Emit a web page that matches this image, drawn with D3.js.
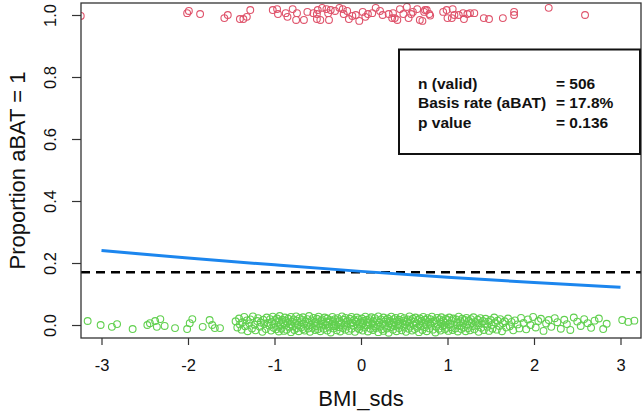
<!DOCTYPE html>
<html><head><meta charset="utf-8">
<script src="https://cdn.jsdelivr.net/npm/d3@7/dist/d3.min.js"></script>
<style>body{margin:0;background:#fff}svg{display:block}text{font-family:"Liberation Sans",Arial,sans-serif}</style>
</head><body><svg id="c" width="644" height="413"></svg>
<script>
// ---- data ----
const xTicks = [-3, -2, -1, 0, 1, 2, 3];
const xTickLabels = ["-3", "-2", "-1", "0", "1", "2", "3"];
const yTicks = [0, 0.2, 0.4, 0.6, 0.8, 1.0];
const yTickLabels = ["0.0", "0.2", "0.4", "0.6", "0.8", "1.0"];
const xLabel = "BMI_sds";
const yLabel = "Proportion aBAT = 1";
const baseRate = 0.17;
const fitX = [-3, -2, -1, 0, 1, 2, 3];
const fitY = [0.240, 0.216, 0.194, 0.173, 0.154, 0.137, 0.122];
const statLabels = ["n (valid)", "Basis rate (aBAT)", "p value"];
const statValues = ["= 506", "= 17.8%", "= 0.136"];
// aBAT = 1 (jittered around 1)
const pointsOne = [
[-3.24,0.997],[-2.01,1.006],[-1.99,1.013],[-1.86,1.003],[-1.58,0.990],[-1.54,1.000],[-1.40,0.987],[-1.36,0.987],[-1.32,0.994],[-1.28,1.016],
[-1.02,1.016],[-0.97,1.019],[-0.96,1.003],[-0.87,1.006],[-0.85,0.994],[-0.79,1.019],[-0.74,1.006],[-0.75,0.984],[-0.66,0.984],[-0.62,1.010],
[-0.55,1.006],[-0.51,1.003],[-0.50,1.016],[-0.51,0.987],[-0.47,0.984],[-0.45,1.023],[-0.40,1.019],[-0.38,1.006],[-0.37,0.984],[-0.35,1.016],
[-0.30,1.013],[-0.25,1.023],[-0.21,1.019],[-0.20,1.003],[-0.16,1.013],[-0.14,0.987],[-0.10,0.997],[-0.06,1.000],[-0.02,0.981],[0.02,1.010],
[0.05,0.994],[0.08,1.003],[0.13,1.006],[0.17,1.023],[0.22,1.013],[0.25,1.000],[0.32,1.003],[0.37,1.006],[0.36,0.990],[0.39,0.990],
[0.42,0.984],[0.45,1.019],[0.49,1.003],[0.53,1.026],[0.55,0.990],[0.58,1.003],[0.60,1.010],[0.65,1.019],[0.68,0.984],[0.71,0.981],
[0.73,1.010],[0.74,1.016],[0.76,1.016],[0.79,1.003],[0.80,0.998],[0.95,1.010],[0.99,1.016],[1.00,0.990],[1.05,0.990],[1.06,1.019],
[1.08,1.000],[1.13,1.000],[1.18,1.006],[1.19,0.987],[1.23,1.003],[1.26,1.006],[1.31,1.006],[1.42,0.990],[1.48,0.987],[1.64,0.990],
[1.77,1.010],[1.77,1.000],[2.17,1.023],[2.59,1.000]
];
// aBAT = 0 (jittered around 0)
const pointsZero = [
[-3.16,0.013],[-3.01,0.000],[-2.88,-0.006],[-2.82,0.003],[-2.64,-0.013],[-2.47,0.000],[-2.44,0.006],[-2.38,0.013],[-2.32,0.019],[-2.36,-0.006],
[-2.27,-0.003],[-2.15,-0.010],[-1.95,0.019],[-1.98,0.006],[-2.01,-0.013],[-1.83,-0.006],[-1.75,0.016],[-1.72,0.000],[-1.69,-0.010],[-1.63,-0.010],
[-1.45,0.012],[-1.43,-0.008],[-1.41,0.021],[-1.40,0.002],[-1.38,-0.015],[-1.37,0.009],[-1.35,0.026],[-1.34,-0.004],[-1.32,0.015],[-1.31,-0.020],
[-1.29,0.005],[-1.28,0.018],[-1.26,-0.011],[-1.25,0.028],[-1.23,0.001],[-1.22,-0.017],[-1.20,0.013],[-1.19,0.022],[-1.17,-0.006],[-1.16,0.008],
[-1.14,-0.022],[-1.13,0.017],[-1.12,0.003],[-1.10,-0.013],[-1.09,0.024],[-1.08,0.007],[-1.06,-0.002],[-1.05,0.019],[-1.04,-0.018],[-1.03,0.011],
[-1.02,0.027],[-1.01,-0.009],[-1.00,0.004],[-0.99,0.016],[-0.98,-0.014],
[-0.97,0.021],[-0.96,-0.005],[-0.95,0.010],[-0.95,-0.021],[-0.94,0.029],[-0.93,0.002],[-0.92,-0.012],[-0.91,0.017],[-0.90,0.006],[-0.89,-0.019],
[-0.88,0.024],[-0.88,-0.001],[-0.87,0.013],[-0.86,-0.015],[-0.85,0.008],[-0.84,0.020],[-0.83,-0.008],[-0.82,0.003],[-0.81,0.026],[-0.81,-0.023],
[-0.80,0.011],[-0.79,-0.004],[-0.78,0.018],[-0.77,-0.016],[-0.76,0.005],[-0.75,0.028],[-0.74,-0.010],[-0.74,0.014],[-0.73,0.000],[-0.72,-0.020],
[-0.71,0.022],[-0.70,0.009],[-0.69,-0.007],[-0.68,0.016],[-0.67,-0.013],[-0.67,0.025],[-0.66,0.004],[-0.65,-0.018],[-0.64,0.012],[-0.63,-0.002],
[-0.62,0.019],[-0.61,-0.011],[-0.60,0.007],[-0.60,0.029],[-0.59,-0.022],[-0.58,0.001],[-0.57,0.015],[-0.56,-0.009],[-0.55,0.023],[-0.54,0.006],
[-0.53,-0.016],[-0.53,0.010],[-0.52,-0.003],[-0.51,0.020],[-0.50,-0.014],[-0.49,0.027],[-0.48,0.002],[-0.47,-0.020],[-0.46,0.013],[-0.46,-0.006],
[-0.45,0.018],[-0.44,0.004],[-0.43,-0.012],[-0.42,0.024],[-0.41,-0.001],[-0.40,0.011],[-0.39,-0.018],[-0.39,0.021],[-0.38,0.008],[-0.37,-0.008],
[-0.36,0.016],[-0.35,-0.024],[-0.34,0.003],[-0.33,0.026],[-0.32,-0.011],[-0.32,0.012],[-0.31,-0.004],[-0.30,0.019],[-0.29,0.000],[-0.28,-0.017],
[-0.27,0.022],[-0.26,0.009],[-0.25,-0.007],[-0.25,0.014],[-0.24,-0.021],[-0.23,0.005],[-0.22,0.028],[-0.21,-0.010],[-0.20,0.017],[-0.19,0.001],
[-0.18,-0.015],[-0.18,0.023],[-0.17,0.010],[-0.16,-0.005],[-0.15,0.013],[-0.14,-0.019],[-0.13,0.020],[-0.12,0.004],[-0.11,-0.012],[-0.11,0.026],
[-0.10,0.007],[-0.09,-0.002],[-0.08,0.016],[-0.07,-0.022],[-0.06,0.011],[-0.05,0.024],[-0.04,-0.009],[-0.04,0.002],[-0.03,0.018],[-0.02,-0.014],
[-0.01,0.008],[0.00,-0.004],
[0.01,0.021],[0.02,-0.018],[0.02,0.006],[0.03,0.013],[0.04,-0.008],[0.05,0.027],[0.06,-0.001],[0.07,0.017],[0.08,-0.021],[0.08,0.009],
[0.09,0.002],[0.10,0.019],[0.11,-0.012],[0.12,0.025],[0.13,0.005],[0.14,-0.016],[0.14,0.012],[0.15,-0.003],[0.16,0.022],[0.17,-0.010],
[0.18,0.015],[0.19,0.000],[0.20,-0.023],[0.20,0.028],[0.21,0.008],[0.22,-0.006],[0.23,0.018],[0.24,-0.014],[0.25,0.003],[0.26,0.024],
[0.26,-0.019],[0.27,0.011],[0.28,-0.002],[0.29,0.016],[0.30,-0.011],[0.31,0.021],[0.32,0.006],[0.32,-0.025],[0.33,0.013],[0.34,-0.007],
[0.35,0.027],[0.36,0.001],[0.37,-0.015],[0.38,0.019],[0.38,0.009],[0.39,-0.004],[0.40,0.023],[0.41,-0.020],[0.42,0.012],[0.43,0.004],
[0.44,-0.010],[0.44,0.017],[0.45,-0.001],[0.46,0.026],[0.47,-0.017],[0.48,0.007],[0.49,0.014],[0.50,-0.008],[0.50,0.022],[0.51,0.002],
[0.52,-0.022],[0.53,0.010],[0.54,0.018],[0.55,-0.012],[0.56,0.005],[0.56,0.028],[0.57,-0.005],[0.58,0.015],[0.59,-0.018],[0.60,0.020],
[0.61,0.000],[0.62,0.011],[0.62,-0.013],[0.63,0.024],[0.64,0.006],[0.65,-0.009],[0.66,0.016],[0.67,-0.023],[0.68,0.003],[0.68,0.021],
[0.69,-0.003],[0.70,0.013],[0.71,-0.016],[0.72,0.026],[0.73,0.008],[0.74,-0.007],[0.74,0.017],[0.75,0.001],[0.76,-0.020],[0.77,0.022],
[0.78,0.010],[0.79,-0.011],[0.80,0.004],[0.80,0.019],[0.81,-0.002],[0.82,0.027],[0.83,-0.015],[0.84,0.012],[0.85,0.006],[0.86,-0.024],
[0.86,0.015],[0.87,-0.006],[0.88,0.023],[0.89,0.002],[0.90,-0.012],[0.91,0.018],[0.92,0.009],[0.92,-0.018],[0.93,0.025],[0.94,-0.004],
[0.95,0.013],[0.96,0.000],[0.97,-0.014],[0.98,0.020],[0.98,0.007],[0.99,-0.009],[1.00,0.016],
[1.01,-0.019],[1.02,0.024],[1.03,0.004],[1.04,-0.007],[1.05,0.014],[1.06,-0.016],[1.07,0.021],[1.08,0.001],[1.09,-0.011],[1.10,0.018],
[1.11,0.008],[1.12,-0.021],[1.13,0.027],[1.14,-0.003],[1.15,0.012],[1.16,-0.013],[1.17,0.020],[1.18,0.005],[1.19,-0.008],[1.20,0.016],
[1.21,-0.020],[1.22,0.023],[1.23,0.002],[1.24,-0.010],[1.25,0.013],[1.26,-0.017],[1.27,0.019],[1.28,0.007],[1.29,-0.004],[1.30,0.025],
[1.31,-0.014],[1.32,0.010],[1.34,-0.001],[1.35,0.017],[1.36,-0.022],[1.37,0.006],[1.38,0.022],[1.39,-0.009],[1.41,0.013],[1.42,-0.016],
[1.43,0.003],[1.44,0.020],[1.46,-0.006],[1.47,0.011],[1.48,-0.019],[1.50,0.016],[1.51,0.000],[1.52,-0.012],[1.54,0.024],[1.55,0.008],
[1.57,-0.015],[1.58,0.014],[1.60,-0.003],[1.61,0.019],[1.63,-0.020],[1.64,0.006],[1.66,0.012],[1.68,-0.008],
[1.70,0.021],[1.72,-0.004],[1.74,0.010],[1.76,-0.017],[1.78,0.015],[1.81,0.002],[1.83,-0.011],[1.85,0.023],[1.88,0.007],[1.91,-0.014],
[1.93,0.018],[1.96,0.000],[1.99,0.026],[2.02,-0.008],[2.05,0.013],[2.08,0.020],[2.11,-0.019],[2.14,0.005],[2.17,0.016],[2.20,-0.006],
[2.24,0.022],[2.27,0.009],[2.31,-0.012],[2.35,0.017],[2.38,0.003],[2.42,-0.016],[2.46,0.024],[2.50,0.011],[2.54,-0.003],[2.58,0.019],
[2.62,0.006],[2.66,-0.009],[2.70,0.014],[2.75,0.021],[2.80,-0.013],[2.84,0.004],[3.02,0.016],[3.09,0.010],[3.16,0.014]
];

// ---- layout ----
const L = 81, R = 641, T = 3, B = 338;
const svg = d3.select("#c");
const x = d3.scaleLinear().domain([-3.237, 3.237]).range([L, R]);
const y = d3.scaleLinear().domain([-0.0419, 1.0387]).range([B, T]);

svg.append("defs").append("clipPath").attr("id", "clip")
  .append("rect").attr("x", L).attr("y", T).attr("width", R - L).attr("height", B - T);
const plot = svg.append("g").attr("clip-path", "url(#clip)");

plot.selectAll("circle.one").data(pointsOne).join("circle").attr("class", "one")
  .attr("cx", d => x(d[0])).attr("cy", d => y(d[1])).attr("r", 3.4)
  .attr("fill", "none").attr("stroke", "#DF536B").attr("stroke-width", 1.1);
plot.selectAll("circle.zero").data(pointsZero).join("circle").attr("class", "zero")
  .attr("cx", d => x(d[0])).attr("cy", d => y(d[1])).attr("r", 3.4)
  .attr("fill", "none").attr("stroke", "#61D04F").attr("stroke-width", 1.1);

plot.append("line").attr("x1", L).attr("x2", R).attr("y1", y(baseRate)).attr("y2", y(baseRate))
  .attr("stroke", "#000").attr("stroke-width", 2.5).attr("stroke-dasharray", "9,6");

const line = d3.line().x((d, i) => x(fitX[i])).y(d => y(d)).curve(d3.curveMonotoneX);
plot.append("path").datum(fitY).attr("d", line).attr("fill", "none")
  .attr("stroke", "#1C86EE").attr("stroke-width", 3);

// axes
const xAxis = svg.append("g").attr("transform", `translate(0,${B})`)
  .call(d3.axisBottom(x).tickValues(xTicks).tickSize(7).tickPadding(14)
    .tickFormat((d, i) => xTickLabels[i]));
xAxis.select(".domain").remove();
xAxis.selectAll("line").attr("stroke", "#333").attr("stroke-width", 1.2);
xAxis.selectAll("text").attr("font-size", 16.5).attr("fill", "#111").attr("font-family", "Liberation Sans, Arial");

const yAxis = svg.append("g").attr("transform", `translate(${L},0)`)
  .call(d3.axisLeft(y).tickValues(yTicks).tickSize(9).tickFormat((d, i) => yTickLabels[i]));
yAxis.select(".domain").remove();
yAxis.selectAll("line").attr("stroke", "#333").attr("stroke-width", 1.2);
yAxis.selectAll("text").attr("font-size", 16.5).attr("fill", "#111").attr("font-family", "Liberation Sans, Arial")
  .attr("x", null).attr("dy", null).attr("text-anchor", "middle")
  .attr("transform", "translate(-25.5,0) rotate(-90)");

// box
svg.append("rect").attr("x", L).attr("y", T).attr("width", R - L).attr("height", B - T)
  .attr("fill", "none").attr("stroke", "#333").attr("stroke-width", 1.3);

// titles
svg.append("text").attr("x", (L + R) / 2).attr("y", 406).attr("text-anchor", "middle")
  .attr("font-size", 22).attr("fill", "#111").text(xLabel);
svg.append("text").attr("transform", `translate(25,${(T + B) / 2}) rotate(-90)`).attr("text-anchor", "middle")
  .attr("font-size", 22).attr("fill", "#111").text(yLabel);

// stats box
const sb = svg.append("g");
sb.append("rect").attr("x", 399).attr("y", 49.5).attr("width", 241).attr("height", 104.5)
  .attr("fill", "#fff").attr("stroke", "#111").attr("stroke-width", 2);
statLabels.forEach((t, i) => {
  sb.append("text").attr("x", 418).attr("y", 89 + i * 19.3).attr("font-size", 15.5).attr("font-weight", "bold")
    .attr("fill", "#111").text(t);
  sb.append("text").attr("x", 556).attr("y", 89 + i * 19.3).attr("font-size", 15.5).attr("font-weight", "bold")
    .attr("fill", "#111").text(statValues[i]);
});
</script></body></html>
